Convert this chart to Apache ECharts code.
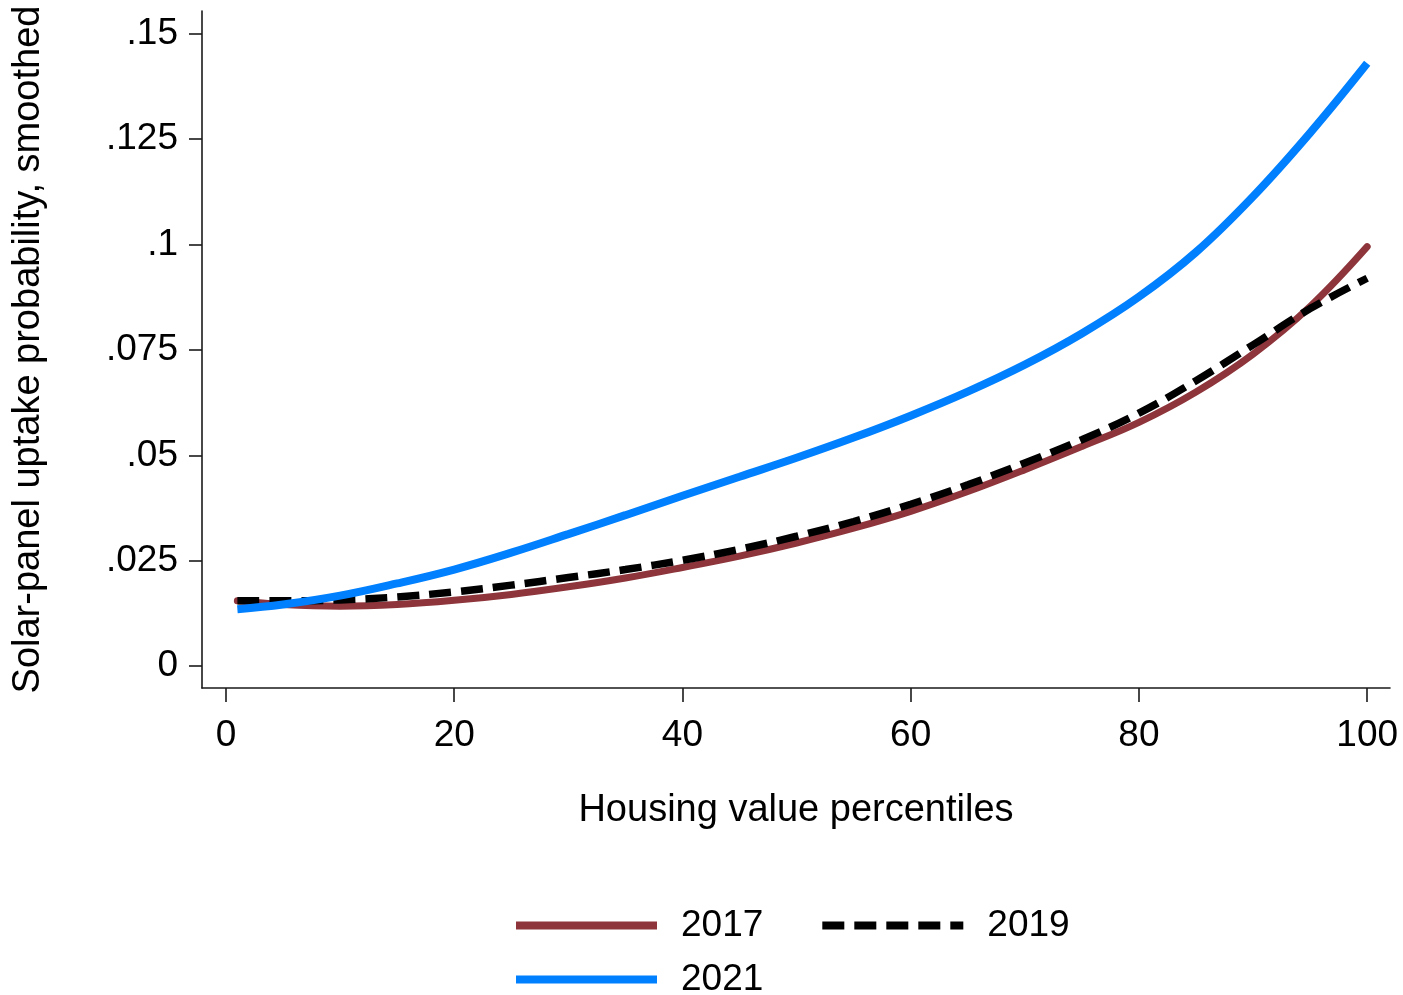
<!DOCTYPE html>
<html>
<head>
<meta charset="utf-8">
<script src="https://cdn.jsdelivr.net/npm/echarts@6/dist/echarts.min.js"></script>
<style>
  html, body { margin: 0; padding: 0; background: #fff; }
  #chart { width: 1403px; height: 995px; }
</style>
</head>
<body>
<div id="chart"></div>
<script>
// Housing value percentile at which each smoothed curve is evaluated
const percentiles = [1, 5, 10, 15, 20, 25, 30, 35, 40, 45, 50, 55, 60, 65, 70, 75, 80, 85, 90, 95, 100];

// Smoothed solar-panel uptake probability by year
const uptake2017 = [0.0155, 0.0146, 0.0142, 0.0146, 0.0156, 0.0170, 0.0188, 0.0209, 0.0234, 0.0261, 0.0292,
                    0.0327, 0.0367, 0.0414, 0.0466, 0.0521, 0.0578, 0.0650, 0.0740, 0.0853, 0.0995];
const uptake2019 = [0.0155, 0.0155, 0.0157, 0.0164, 0.0176, 0.0192, 0.0210, 0.0229, 0.0251, 0.0277, 0.0308,
                    0.0343, 0.0384, 0.0430, 0.0482, 0.0537, 0.0600, 0.0677, 0.0762, 0.0848, 0.0920];
const uptake2021 = [0.0135, 0.0146, 0.0167, 0.0196, 0.0229, 0.0269, 0.0313, 0.0358, 0.0404, 0.0449, 0.0494,
                    0.0542, 0.0594, 0.0651, 0.0715, 0.0789, 0.0876, 0.0982, 0.1114, 0.1265, 0.1430];

// Axis ticks and their printed labels
const xTicks = [0, 20, 40, 60, 80, 100];
const yTicks = [0, 0.025, 0.05, 0.075, 0.1, 0.125, 0.15];
const yTickLabels = ['0', '.025', '.05', '.075', '.1', '.125', '.15'];

const FONT = '"Liberation Sans", Arial, Helvetica, sans-serif';
const pairs = (ys) => percentiles.map((p, i) => [p, ys[i]]);

const chart = echarts.init(document.getElementById('chart'), null, { renderer: 'canvas' });

const axisLineStyle = { color: '#1a1a1a', width: 1.6 };

const legendCommon = {
  padding: 0,
  orient: 'horizontal',
  itemWidth: 141, itemHeight: 8,
  selectedMode: false,
  itemStyle: { opacity: 0 },
  lineStyle: { width: 8, cap: 'butt' },
  textStyle: { fontSize: 37, color: '#000', fontFamily: FONT, padding: [0, 0, 0, 19] }
};

chart.setOption({
  animation: false,
  backgroundColor: '#ffffff',
  textStyle: { fontFamily: FONT, color: '#000' },
  grid: { left: 202, right: 13, top: 11, bottom: 307, containLabel: false },
  xAxis: {
    type: 'value',
    min: -2.1,
    max: 102.0,
    name: 'Housing value percentiles',
    nameLocation: 'middle',
    nameGap: 104,
    nameTextStyle: { fontSize: 38, color: '#000', fontFamily: FONT },
    axisLine: { show: true, onZero: false, lineStyle: axisLineStyle },
    axisTick: { show: true, inside: false, length: 14, customValues: xTicks, lineStyle: { color: '#1a1a1a', width: 1.6 } },
    axisLabel: { show: true, customValues: xTicks, margin: 29, fontSize: 37, color: '#000', fontFamily: FONT,
                 formatter: (v) => String(v) },
    splitLine: { show: false }
  },
  yAxis: {
    type: 'value',
    min: -0.0052,
    max: 0.1554,
    name: 'Solar-panel uptake probability, smoothed',
    nameLocation: 'middle',
    nameGap: 154,
    nameTextStyle: { fontSize: 38, color: '#000', fontFamily: FONT },
    axisLine: { show: true, onZero: false, lineStyle: axisLineStyle },
    axisTick: { show: true, inside: false, length: 13, customValues: yTicks, lineStyle: { color: '#1a1a1a', width: 1.6 } },
    axisLabel: {
      show: true, customValues: yTicks, margin: 24, fontSize: 37, color: '#000', fontFamily: FONT,
      formatter: (v) => {
        const i = yTicks.findIndex((t) => Math.abs(t - v) < 1e-9);
        return i >= 0 ? yTickLabels[i] : '';
      }
    },
    splitLine: { show: false }
  },
  legend: [
    Object.assign({}, legendCommon, { data: ['2017', '2019'], left: 512, top: 907, itemGap: 55 }),
    Object.assign({}, legendCommon, { data: ['2021'], left: 512, top: 961 })
  ],
  series: [
    {
      name: '2017', type: 'line', data: pairs(uptake2017),
      smooth: 0.4, symbol: 'none', showSymbol: false,
      lineStyle: { color: '#8E353B', width: 7, cap: 'round' },
      itemStyle: { color: '#8E353B' }, z: 2
    },
    {
      name: '2019', type: 'line', data: pairs(uptake2019),
      smooth: 0.4, symbol: 'none', showSymbol: false,
      lineStyle: { color: '#000000', width: 7.5, type: [22, 10], cap: 'butt' },
      itemStyle: { color: '#000000' }, z: 3
    },
    {
      name: '2021', type: 'line', data: pairs(uptake2021),
      smooth: 0.4, symbol: 'none', showSymbol: false,
      lineStyle: { color: '#0080FF', width: 8, cap: 'butt' },
      itemStyle: { color: '#0080FF' }, z: 4
    }
  ]
});
</script>
</body>
</html>
